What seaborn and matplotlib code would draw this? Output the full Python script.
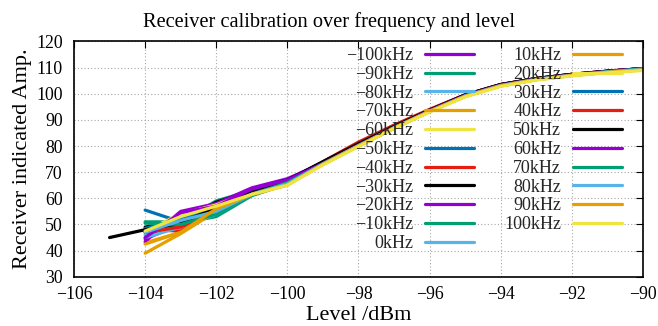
import numpy as np
import pandas as pd
import matplotlib
matplotlib.use("Agg")
import matplotlib.pyplot as plt
import seaborn as sns

levels = [-105, -104, -103, -102, -101, -100, -99, -98, -97, -96, -95, -94, -93, -92, -91, -90]
nan = np.nan

freq_labels = ["−100kHz", "−90kHz", "−80kHz", "−70kHz", "−60kHz", "−50kHz", "−40kHz",
               "−30kHz", "−20kHz", "−10kHz", "0kHz", "10kHz", "20kHz", "30kHz", "40kHz",
               "50kHz", "60kHz", "70kHz", "80kHz", "90kHz", "100kHz"]

amp_m100 = [nan, 44.5, 50.0, 57.5, 63.5, 67.0, 73.5, 80.5, 87.5, 93.8, 99.5, 103.5, 105.8, 107.4, 108.6, 109.6]
amp_m90 = [nan, 51.0, 51.0, 59.0, 63.0, 66.5, 73.8, 80.8, 87.3, 93.6, 99.4, 103.4, 105.7, 107.3, 108.5, 109.5]
amp_m80 = [nan, 46.0, 52.5, 56.0, 62.0, 66.0, 73.5, 80.5, 87.2, 93.5, 99.3, 103.3, 105.6, 107.2, 108.4, 109.4]
amp_m70 = [nan, 43.0, 47.0, 56.5, 62.5, 66.0, 73.6, 80.6, 87.3, 93.5, 99.3, 103.3, 105.6, 107.2, 108.4, 109.4]
amp_m60 = [nan, 47.0, 53.0, 58.0, 62.0, 65.5, 73.3, 80.3, 87.0, 93.3, 99.1, 103.1, 105.4, 107.0, 108.2, 109.2]
amp_m50 = [nan, 55.5, 51.0, 57.0, 62.5, 66.5, 73.6, 80.6, 87.3, 93.6, 99.4, 103.4, 105.7, 107.3, 108.5, 109.5]
amp_m40 = [nan, 48.0, 47.5, 55.5, 62.0, 66.5, 74.0, 81.5, 88.0, 94.0, 99.6, 103.5, 105.8, 107.4, 108.6, 109.6]
amp_m30 = [nan, 49.0, 51.5, 58.5, 63.0, 67.0, 74.0, 81.0, 87.5, 93.7, 99.5, 103.5, 105.8, 107.4, 108.6, 109.6]
amp_m20 = [nan, 43.5, 55.0, 58.0, 64.0, 67.5, 73.4, 80.2, 87.0, 93.4, 99.2, 103.2, 105.6, 107.2, 108.5, 109.6]
amp_m10 = [nan, 47.0, 50.5, 53.0, 61.0, 65.5, 73.0, 80.0, 86.8, 93.2, 99.0, 103.0, 105.5, 107.1, 108.4, 109.4]
amp_0 = [nan, 45.0, 49.0, 54.0, 61.5, 66.0, 73.3, 80.3, 87.0, 93.3, 99.1, 103.1, 105.4, 107.0, 108.2, 109.2]
amp_10 = [nan, 39.0, 46.5, 55.0, 62.0, 65.5, 73.3, 80.3, 87.0, 93.3, 99.1, 103.1, 105.4, 107.0, 108.2, 109.2]
amp_20 = [nan, 47.5, 54.0, 57.5, 62.5, 65.5, 73.0, 80.0, 86.8, 93.2, 99.0, 103.0, 105.4, 107.0, 108.2, 109.0]
amp_30 = [nan, 48.5, 52.0, 56.0, 62.0, 66.0, 73.4, 80.4, 87.2, 93.5, 99.3, 103.3, 105.6, 107.2, 108.4, 109.4]
amp_40 = [nan, 47.0, 49.0, 55.0, 61.5, 66.0, 73.6, 81.0, 87.8, 93.8, 99.5, 103.4, 105.7, 107.3, 108.5, 109.5]
amp_50 = [45.0, 48.0, 50.5, 56.5, 63.0, 67.0, 73.8, 80.8, 87.5, 93.7, 99.5, 103.5, 105.8, 107.4, 108.6, 109.6]
amp_60 = [nan, 45.0, 54.5, 57.0, 63.5, 67.0, 73.3, 80.2, 87.0, 93.5, 99.3, 103.3, 105.6, 107.2, 108.5, 109.6]
amp_70 = [nan, 50.5, 50.0, 54.0, 61.5, 66.0, 73.0, 80.0, 86.8, 93.3, 99.1, 103.1, 105.5, 107.1, 108.4, 109.5]
amp_80 = [nan, 47.0, 51.5, 55.0, 61.5, 65.5, 73.2, 80.2, 87.0, 93.3, 99.1, 103.1, 105.4, 107.0, 108.3, 109.3]
amp_90 = [nan, 42.5, 47.0, 56.0, 61.5, 65.0, 73.0, 80.0, 86.9, 93.2, 99.0, 103.0, 105.4, 107.0, 108.2, 109.1]
amp_100 = [nan, 47.5, 53.0, 57.0, 61.5, 65.0, 72.8, 79.8, 86.7, 93.0, 98.8, 102.8, 105.2, 106.8, 108.0, 108.9]

series = [amp_m100, amp_m90, amp_m80, amp_m70, amp_m60, amp_m50, amp_m40, amp_m30,
          amp_m20, amp_m10, amp_0, amp_10, amp_20, amp_30, amp_40, amp_50, amp_60,
          amp_70, amp_80, amp_90, amp_100]

base_colors = ["#9400d3", "#009e73", "#56b4e9", "#e69f00", "#f0e442", "#0072b2", "#e51e10", "#000000"]
palette = [base_colors[i % len(base_colors)] for i in range(len(freq_labels))]

rows = []
for lab, vals in zip(freq_labels, series):
    for lv, a in zip(levels, vals):
        if not np.isnan(a):
            rows.append((lv, a, lab))
df = pd.DataFrame(rows, columns=["level", "amp", "freq"])

sns.set_theme(style="white")
plt.rcParams["font.family"] = ["Liberation Serif", "DejaVu Serif"]
plt.rcParams["axes.unicode_minus"] = True

fig = plt.figure(figsize=(6.58, 3.26), dpi=100)
ax = fig.add_axes([0.1125, 0.151, 0.8645, 0.722])

sns.lineplot(data=df, x="level", y="amp", hue="freq", hue_order=freq_labels,
             palette=palette, linewidth=2.3, ax=ax, legend=False, estimator=None,
             sort=True)

ax.set_xlim(-106, -90)
ax.set_ylim(30, 120)
ax.set_xticks(np.arange(-106, -89, 2))
ax.set_yticks(np.arange(30, 121, 10))
ax.grid(True, color="#a8a8a8", linestyle=(0, (1, 2)), linewidth=0.8)
for s in ax.spines.values():
    s.set_color("black")
    s.set_linewidth(1.2)
ax.tick_params(direction="in", length=5, width=0.8, top=True, right=True,
               labelsize=12.8, colors="black")
ax.tick_params(axis="y", pad=8)
ax.tick_params(axis="x", pad=7)

fig.suptitle("Receiver calibration over frequency and level", fontsize=14.7,
             x=0.5, y=0.963, va="top", color="black")
ax.set_xlabel("Level /dBm", fontsize=16, labelpad=1.5, color="black")
ax.set_ylabel("Receiver indicated Amp.", fontsize=16, labelpad=3, color="black")

handles = ax.lines[:len(freq_labels)]
ax.legend(handles, freq_labels, ncol=2, loc="upper right", bbox_to_anchor=(0.963, 0.976),
          markerfirst=False, frameon=False, fontsize=13, handlelength=2.7,
          handletextpad=0.66, columnspacing=1.66, labelspacing=0.1, borderpad=0,
          borderaxespad=0)

fig.savefig("out.png", dpi=100)
